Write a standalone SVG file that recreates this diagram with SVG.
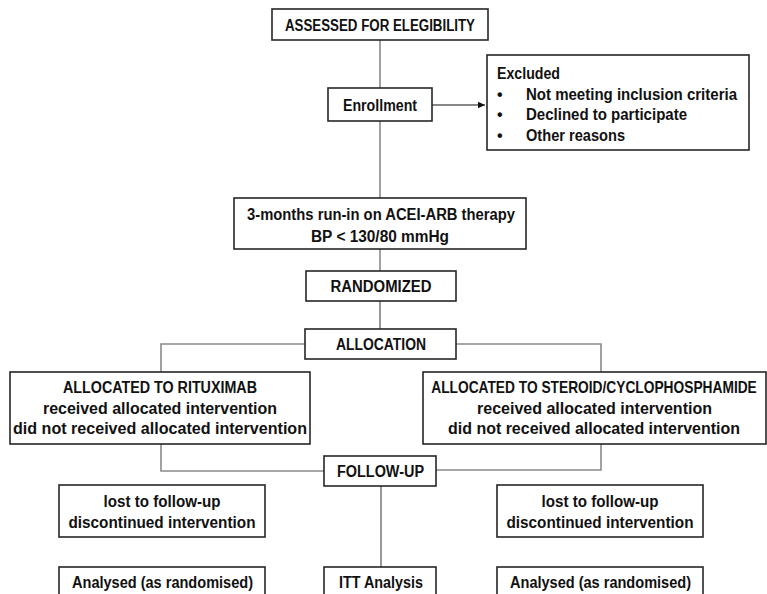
<svg xmlns="http://www.w3.org/2000/svg" width="767" height="594" viewBox="0 0 767 594">
<style>
.box{fill:#fff;stroke:#262626;stroke-width:1.6}
.t{font-family:"Liberation Sans",Arial,sans-serif;font-weight:bold;font-size:16px;fill:#111}
.c{text-anchor:middle}
.ln{fill:none;stroke:#8a8a8a;stroke-width:1.6}
.dk{fill:none;stroke:#444;stroke-width:1.1}
</style>
<defs>
<marker id="ah" markerWidth="8" markerHeight="8" refX="7" refY="4" orient="auto" markerUnits="userSpaceOnUse">
<path d="M0,0.8 L7,4 L0,7.2 Z" fill="#111"/>
</marker>
</defs>
<rect width="767" height="594" fill="#fff"/>
<g id="connectors">
<path class="ln" d="M380,40 V88"/>
<path class="ln" d="M380,121 V198"/>
<path class="ln" d="M380,249 V271"/>
<path class="dk" d="M380,301 V329"/>
<path class="ln" d="M305,344 H161 V372"/>
<path class="ln" d="M456,344 H601 V372"/>
<path class="ln" d="M161,444 V471 H324"/>
<path class="ln" d="M601,444 V470 H436"/>
<path class="dk" d="M381,486 V567"/>
<path d="M432,105 H485" stroke="#111" stroke-width="1.1" fill="none" marker-end="url(#ah)"/>
</g>
<g id="assessed">
<rect class="box" x="272" y="9" width="216" height="31"/>
<text class="t c" x="380" y="30.5" textLength="190" lengthAdjust="spacingAndGlyphs">ASSESSED FOR ELEGIBILITY</text>
</g>
<g id="enrollment">
<rect class="box" x="328" y="88" width="104" height="33"/>
<text class="t c" x="380" y="110.5" textLength="74" lengthAdjust="spacingAndGlyphs">Enrollment</text>
</g>
<g id="excluded">
<rect class="box" x="487" y="55" width="262" height="95"/>
<text class="t" x="497" y="79" textLength="63" lengthAdjust="spacingAndGlyphs">Excluded</text>
<text class="t" x="497" y="99.5">•</text>
<text class="t" x="526" y="99.5" textLength="211" lengthAdjust="spacingAndGlyphs">Not meeting inclusion criteria</text>
<text class="t" x="497" y="120">•</text>
<text class="t" x="526" y="120" textLength="161" lengthAdjust="spacingAndGlyphs">Declined to participate</text>
<text class="t" x="497" y="140.5">•</text>
<text class="t" x="526" y="140.5" textLength="99" lengthAdjust="spacingAndGlyphs">Other reasons</text>
</g>
<g id="runin">
<rect class="box" x="234" y="198" width="292" height="51"/>
<text class="t c" x="381" y="220" textLength="268" lengthAdjust="spacingAndGlyphs">3-months run-in on ACEI-ARB therapy</text>
<text class="t c" x="380" y="242" textLength="138" lengthAdjust="spacingAndGlyphs">BP &lt; 130/80 mmHg</text>
</g>
<g id="randomized">
<rect class="box" x="306" y="271" width="150" height="30"/>
<text class="t c" x="381" y="292" textLength="101" lengthAdjust="spacingAndGlyphs">RANDOMIZED</text>
</g>
<g id="allocation">
<rect class="box" x="305" y="329" width="151" height="30"/>
<text class="t c" x="381" y="349.5" textLength="90" lengthAdjust="spacingAndGlyphs">ALLOCATION</text>
</g>
<g id="rituximab">
<rect class="box" x="10" y="372" width="300" height="72"/>
<text class="t c" x="160" y="393" textLength="194" lengthAdjust="spacingAndGlyphs">ALLOCATED TO RITUXIMAB</text>
<text class="t c" x="160" y="413.5" textLength="234" lengthAdjust="spacingAndGlyphs">received allocated intervention</text>
<text class="t c" x="160" y="434" textLength="294" lengthAdjust="spacingAndGlyphs">did not received allocated intervention</text>
</g>
<g id="steroid">
<rect class="box" x="423" y="372" width="343" height="72"/>
<text class="t c" transform="translate(594,393) scale(0.86,1)" x="0" y="0">ALLOCATED TO STEROID/CYCLOPHOSPHAMIDE</text>
<text class="t c" x="594.5" y="413.5" textLength="235" lengthAdjust="spacingAndGlyphs">received allocated intervention</text>
<text class="t c" x="594" y="434" textLength="292" lengthAdjust="spacingAndGlyphs">did not received allocated intervention</text>
</g>
<g id="followup">
<rect class="box" x="324" y="456" width="112" height="30"/>
<text class="t c" x="380.5" y="476.5" textLength="87" lengthAdjust="spacingAndGlyphs">FOLLOW-UP</text>
</g>
<g id="lost-left">
<rect class="box" x="59" y="485" width="206" height="52"/>
<text class="t c" x="162" y="507" textLength="117" lengthAdjust="spacingAndGlyphs">lost to follow-up</text>
<text class="t c" x="162" y="527.5" textLength="187" lengthAdjust="spacingAndGlyphs">discontinued intervention</text>
</g>
<g id="lost-right">
<rect class="box" x="497" y="485" width="206" height="52"/>
<text class="t c" x="600" y="507" textLength="117" lengthAdjust="spacingAndGlyphs">lost to follow-up</text>
<text class="t c" x="600" y="527.5" textLength="187" lengthAdjust="spacingAndGlyphs">discontinued intervention</text>
</g>
<g id="analysed-left">
<rect class="box" x="59" y="567" width="206" height="40"/>
<text class="t c" x="162.5" y="588" textLength="181" lengthAdjust="spacingAndGlyphs">Analysed (as randomised)</text>
</g>
<g id="itt">
<rect class="box" x="324" y="567" width="112" height="40"/>
<text class="t c" x="381" y="587.5" textLength="84" lengthAdjust="spacingAndGlyphs">ITT Analysis</text>
</g>
<g id="analysed-right">
<rect class="box" x="497" y="567" width="206" height="40"/>
<text class="t c" x="600.5" y="588" textLength="181" lengthAdjust="spacingAndGlyphs">Analysed (as randomised)</text>
</g>
</svg>
